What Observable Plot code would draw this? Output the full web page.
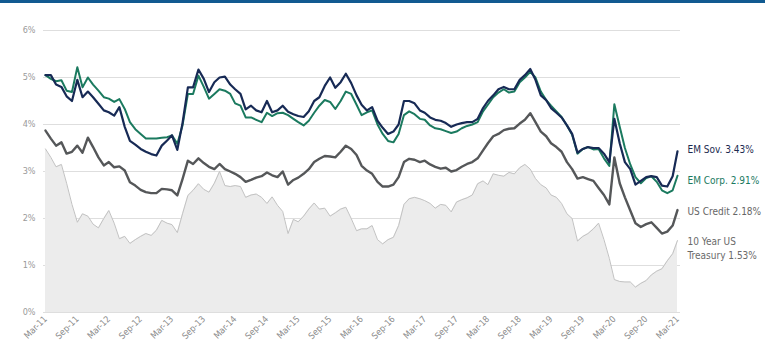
<!DOCTYPE html>
<html><head><meta charset="utf-8">
<script src="https://cdn.jsdelivr.net/npm/d3@7"></script>
<script src="https://cdn.jsdelivr.net/npm/@observablehq/plot@0.6"></script>
<style>
body{margin:0;background:#fff;}
#bar{height:3px;background:#115a91;}
</style></head><body><div id="bar"></div><div id="chart"></div>
<script>
const startMonth = "Mar-11";
const tickLabels = ["Mar-11","Sep-11","Mar-12","Sep-12","Mar-13","Sep-13","Mar-14","Sep-14","Mar-15","Sep-15","Mar-16","Sep-16","Mar-17","Sep-17","Mar-18","Sep-18","Mar-19","Sep-19","Mar-20","Sep-20","Mar-21"];
const yTicks = [0,1,2,3,4,5,6];

const emSov = [5.05,5.05,4.85,4.8,4.6,4.5,4.95,4.58,4.7,4.58,4.44,
4.3,4.26,4.19,4.37,3.95,3.65,3.57,3.48,3.42,3.37,
3.34,3.55,3.66,3.77,3.46,4.03,4.79,4.79,5.17,4.97,
4.69,4.9,5.0,5.02,4.85,4.75,4.65,4.32,4.4,4.3,
4.26,4.5,4.26,4.3,4.4,4.27,4.22,4.18,4.16,4.28,
4.5,4.58,4.82,5.0,4.78,4.9,5.08,4.88,4.62,4.42,
4.3,4.37,4.08,3.93,3.8,3.85,4.0,4.5,4.5,4.45,
4.3,4.25,4.15,4.1,4.08,4.03,3.95,4.0,4.03,4.05,
4.05,4.12,4.35,4.5,4.62,4.75,4.8,4.75,4.75,4.95,
5.05,5.18,4.95,4.62,4.52,4.35,4.25,4.15,3.98,3.8,
3.4,3.48,3.52,3.5,3.5,3.38,3.2,4.12,3.6,3.2,
3.05,2.72,2.8,2.88,2.9,2.88,2.7,2.68,2.9,3.43];

const emCorp = [5.05,4.97,4.92,4.94,4.72,4.69,5.22,4.79,5.0,4.85,4.72,
4.58,4.55,4.48,4.54,4.33,4.05,3.9,3.8,3.7,3.7,
3.7,3.72,3.73,3.77,3.59,3.98,4.65,4.65,5.04,4.8,
4.55,4.65,4.75,4.72,4.65,4.45,4.4,4.15,4.15,4.1,
4.05,4.25,4.18,4.24,4.25,4.2,4.12,4.05,3.98,4.08,
4.25,4.4,4.52,4.48,4.33,4.5,4.7,4.65,4.42,4.2,
4.26,4.3,4.0,3.8,3.65,3.62,3.8,4.2,4.28,4.22,
4.12,4.1,3.98,3.92,3.9,3.86,3.82,3.85,3.92,3.97,
4.0,4.05,4.28,4.42,4.58,4.68,4.75,4.68,4.7,4.9,
5.0,5.12,5.0,4.7,4.52,4.4,4.28,4.16,3.98,3.78,
3.38,3.48,3.52,3.47,3.48,3.28,3.12,4.43,3.95,3.5,
3.15,2.88,2.75,2.86,2.9,2.78,2.6,2.54,2.6,2.91];

const usCredit = [3.87,3.7,3.55,3.62,3.38,3.42,3.55,3.4,3.72,3.52,3.3,
3.13,3.2,3.09,3.11,3.02,2.77,2.7,2.61,2.56,2.54,
2.54,2.63,2.62,2.6,2.49,2.84,3.23,3.16,3.28,3.18,
3.1,3.05,3.16,3.05,3.0,2.95,2.88,2.78,2.82,2.87,
2.9,2.98,2.92,2.88,3.0,2.72,2.82,2.87,2.95,3.05,
3.2,3.27,3.33,3.32,3.3,3.42,3.55,3.48,3.35,3.12,
3.02,2.95,2.78,2.68,2.68,2.72,2.88,3.2,3.27,3.25,
3.2,3.23,3.15,3.1,3.06,3.08,3.0,3.03,3.1,3.16,
3.2,3.28,3.45,3.6,3.75,3.8,3.88,3.91,3.92,4.02,
4.1,4.24,4.05,3.85,3.75,3.6,3.52,3.42,3.2,3.05,
2.85,2.88,2.84,2.8,2.65,2.5,2.3,3.3,2.75,2.45,
2.17,1.9,1.82,1.88,1.92,1.8,1.68,1.72,1.85,2.18];

const treasury10y = [3.48,3.3,3.1,3.15,2.75,2.3,1.92,2.1,2.05,1.88,1.8,
2.0,2.17,1.9,1.57,1.62,1.47,1.55,1.62,1.68,1.64,
1.75,1.96,1.9,1.87,1.7,2.1,2.49,2.6,2.74,2.62,
2.56,2.75,3.0,2.7,2.68,2.7,2.68,2.45,2.5,2.52,
2.45,2.32,2.46,2.28,2.15,1.68,1.98,1.93,2.05,2.2,
2.33,2.2,2.22,2.05,2.12,2.2,2.24,2.0,1.74,1.78,
1.78,1.85,1.55,1.46,1.55,1.6,1.85,2.3,2.42,2.45,
2.42,2.38,2.32,2.22,2.3,2.28,2.14,2.35,2.4,2.44,
2.5,2.74,2.8,2.72,2.95,2.92,2.9,2.98,2.95,3.08,
3.15,3.05,2.85,2.72,2.65,2.5,2.45,2.32,2.1,2.0,
1.52,1.62,1.68,1.78,1.9,1.55,1.15,0.7,0.66,0.65,
0.65,0.54,0.62,0.68,0.8,0.88,0.93,1.1,1.25,1.53];

const seriesLabels = ["EM Sov. 3.43%","EM Corp. 2.91%","US Credit 2.18%","10 Year US\nTreasury 1.53%"];
const labelY = [3.49, 2.83, 2.17, 1.38];
const labelColors = ["#1c2b50","#1b7a5f","#666666","#6a6a6a"];

const parse = d3.utcParse("%b-%y");
const start = parse(startMonth);
const data = emSov.map((v, i) => ({
  date: d3.utcMonth.offset(start, i),
  sov: v, corp: emCorp[i], credit: usCredit[i], tsy: treasury10y[i]
}));
const tickDates = tickLabels.map(parse);
const lastDate = data[data.length - 1].date;
const labels = seriesLabels.map((t, i) => ({text: t, y: labelY[i], color: labelColors[i], date: lastDate}));

const font = "'Liberation Sans Narrow','DejaVu Sans Condensed','Liberation Sans',sans-serif";

const chart = Plot.plot({
  width: 765, height: 351,
  marginLeft: 45, marginRight: 88, marginTop: 27, marginBottom: 42,
  style: {fontFamily: font, fontSize: "9px", color: "#8a8a8a", background: "#fff", overflow: "visible"},
  x: {type: "utc", domain: [data[0].date, lastDate]},
  y: {domain: [0, 6]},
  marks: [
    Plot.ruleY(yTicks, {stroke: "#dedede", strokeWidth: 1, insetLeft: -2, insetRight: -3}),
    Plot.areaY(data, {x: "date", y: "tsy", fill: "#ececec"}),
    Plot.lineY(data, {x: "date", y: "tsy", stroke: "#c2c2c2", strokeWidth: 1}),
    Plot.lineY(data, {x: "date", y: "credit", stroke: "#555759", strokeWidth: 2.4}),
    Plot.lineY(data, {x: "date", y: "corp", stroke: "#1b7a5f", strokeWidth: 2}),
    Plot.lineY(data, {x: "date", y: "sov", stroke: "#172a55", strokeWidth: 2.2}),
    Plot.axisY({ticks: yTicks, tickFormat: d => d + "%", tickSize: 0, tickPadding: 10, fill: "#9a9a9a", fontSize: 9}),
    Plot.axisX({ticks: tickDates, tickFormat: d3.utcFormat("%b-%y"), tickRotate: -45, tickSize: 0, tickPadding: 5, fill: "#8a8a8a", fontSize: 9}),
    Plot.text(labels, {x: "date", y: "y", text: "text", fill: "color", dx: 10, textAnchor: "start", fontSize: 10, lineHeight: 1.35})
  ]
});
document.getElementById("chart").appendChild(chart);
</script>
</body></html>
